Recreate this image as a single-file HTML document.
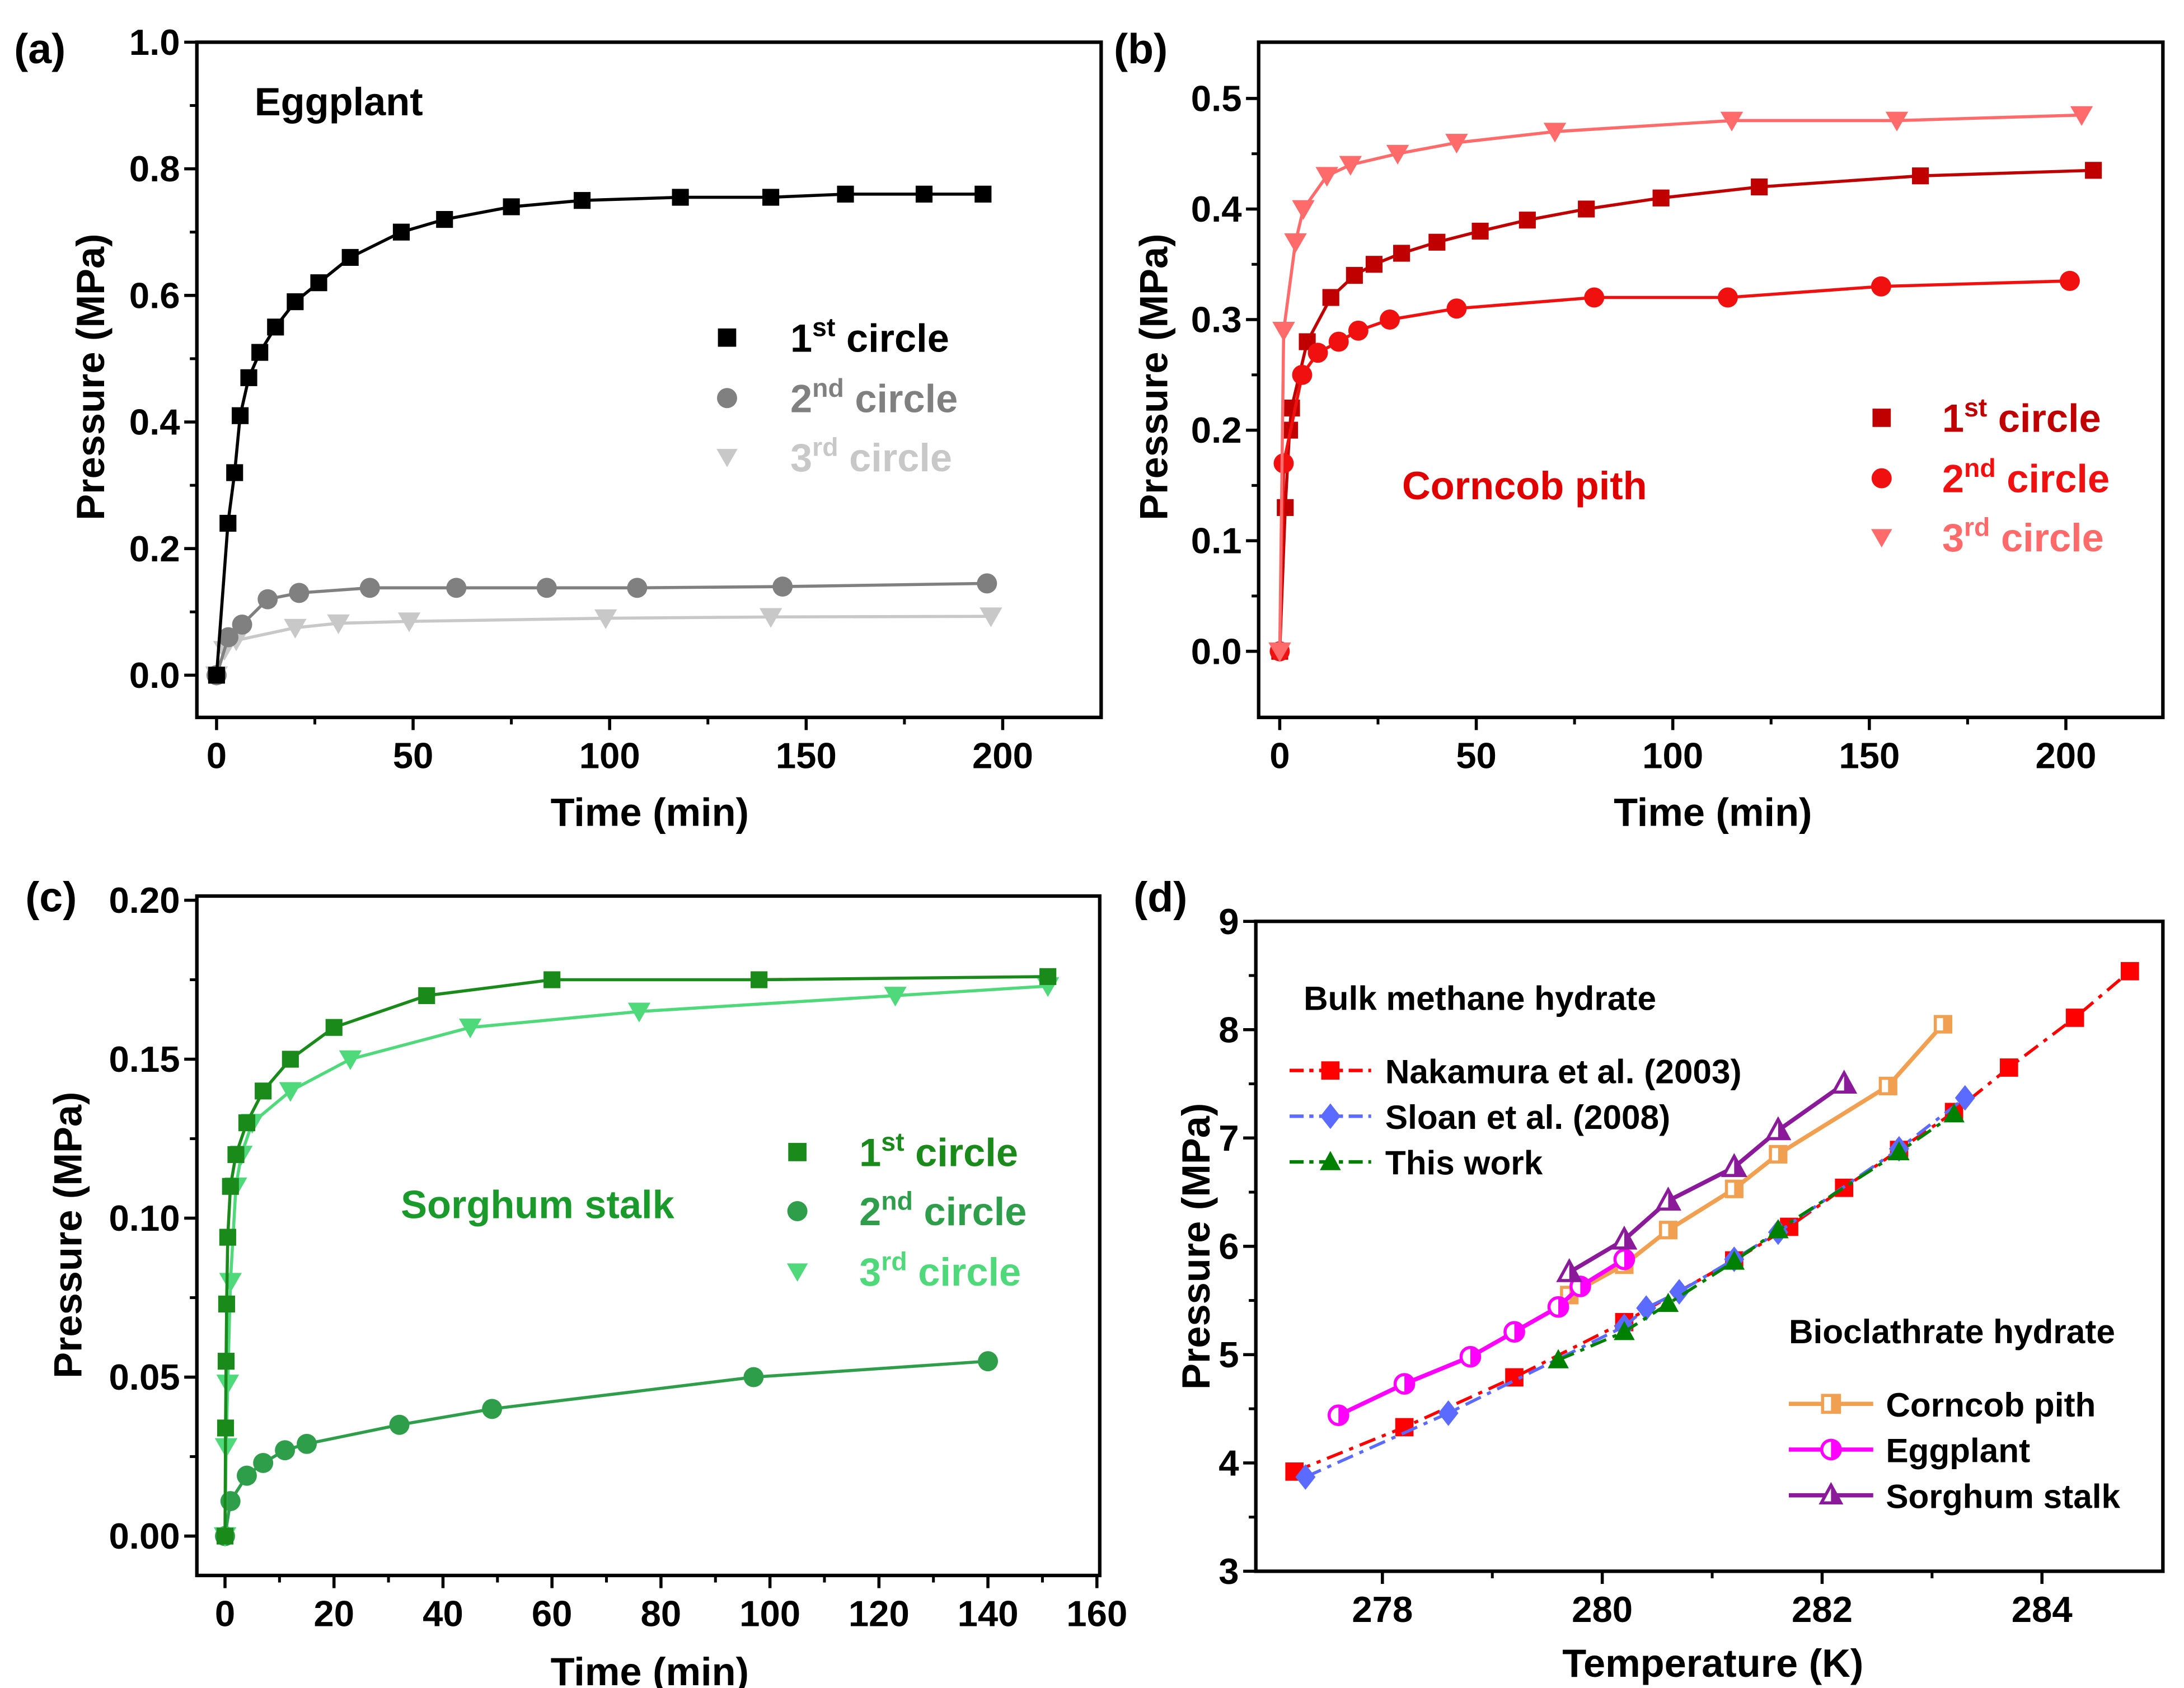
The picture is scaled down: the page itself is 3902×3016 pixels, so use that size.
<!DOCTYPE html>
<html><head><meta charset="utf-8"><style>
html,body{margin:0;padding:0;background:#fff}
svg{display:block}
text{font-family:"Liberation Sans",Arial,sans-serif;font-weight:bold}
</style></head><body>
<svg id="fig" xmlns="http://www.w3.org/2000/svg" width="3902" height="3016" viewBox="0 0 1553 1200" preserveAspectRatio="none"></svg>
<script>
// ---------- Panel (a) Eggplant ----------
const aT1=[0,2.9,4.6,6,8.2,11,15,20,26,34,47,58,75,93,118,141,160,180,195];
const aP1=[0,0.24,0.32,0.41,0.47,0.51,0.55,0.59,0.62,0.66,0.70,0.72,0.74,0.75,0.755,0.755,0.76,0.76,0.76];
const aT2=[0,3,6.5,13,21,39,61,84,107,144,196];
const aP2=[0,0.06,0.08,0.12,0.13,0.138,0.138,0.138,0.138,0.14,0.145];
const aT3=[0,2,5,20,31,49,99,141,197];
const aP3=[0,0.04,0.055,0.075,0.082,0.085,0.09,0.092,0.093];
const aXTicks=[0,50,100,150,200];
const aYTicks=[0.0,0.2,0.4,0.6,0.8,1.0];
// ---------- Panel (b) Corncob pith ----------
const bT1=[0,1.4,2.5,3,7,13,19,24,31,40,51,63,78,97,122,163,207];
const bP1=[0,0.13,0.2,0.22,0.28,0.32,0.34,0.35,0.36,0.37,0.38,0.39,0.40,0.41,0.42,0.43,0.435];
const bT2=[0,1,5.7,9.7,15,20,28,45,80,114,153,201];
const bP2=[0,0.17,0.25,0.27,0.28,0.29,0.30,0.31,0.32,0.32,0.33,0.335];
const bT3=[0,1,4,6,12,18,30,45,70,115,157,204];
const bP3=[0,0.29,0.37,0.40,0.43,0.44,0.45,0.46,0.47,0.48,0.48,0.485];
const bXTicks=[0,50,100,150,200];
const bYTicks=[0.0,0.1,0.2,0.3,0.4,0.5];
// ---------- Panel (c) Sorghum stalk ----------
const cT1=[0,0.1,0.2,0.3,0.5,1,2,4,7,12,20,37,60,98,151];
const cP1=[0,0.034,0.055,0.073,0.094,0.11,0.12,0.13,0.14,0.15,0.16,0.17,0.175,0.175,0.176];
const cT2=[0,1,4,7,11,15,32,49,97,140];
const cP2=[0,0.011,0.019,0.023,0.027,0.029,0.035,0.040,0.050,0.055];
const cT3=[0,0.2,0.5,1,2,3,5,12,23,45,76,123,151];
const cP3=[0,0.028,0.048,0.08,0.11,0.12,0.13,0.14,0.15,0.16,0.165,0.17,0.173];
const cXTicks=[0,20,40,60,80,100,120,140,160];
const cYTicks=[0.00,0.05,0.10,0.15,0.20];
// ---------- Panel (d) Phase equilibrium ----------
const dNakT=[277.2,278.2,279.2,280.2,281.2,281.7,282.2,282.7,283.2,283.7,284.3,284.8];
const dNakP=[3.92,4.33,4.79,5.30,5.87,6.18,6.54,6.89,7.24,7.65,8.11,8.54];
const dSloT=[277.3,278.6,280.2,280.4,280.7,281.2,281.6,282.7,283.3];
const dSloP=[3.87,4.46,5.26,5.43,5.58,5.88,6.13,6.90,7.37];
const dThisT=[279.6,280.2,280.6,281.2,281.6,282.7,283.2];
const dThisP=[4.95,5.21,5.47,5.86,6.15,6.87,7.22];
const dCornT=[279.7,280.2,280.6,281.2,281.6,282.6,283.1];
const dCornP=[5.55,5.83,6.15,6.53,6.85,7.48,8.05];
const dEggT=[277.6,278.2,278.8,279.2,279.6,279.8,280.2];
const dEggP=[4.44,4.73,4.98,5.21,5.44,5.63,5.88];
const dSorT=[279.7,280.2,280.6,281.2,281.6,282.2];
const dSorP=[5.76,6.06,6.42,6.73,7.07,7.50];
const dXTicks=[278,280,282,284];
const dYTicks=[3,4,5,6,7,8,9];

const NS='http://www.w3.org/2000/svg';
const svg=document.getElementById('fig');
function mk(tag,attrs,parent){const e=document.createElementNS(NS,tag);for(const k in attrs)e.setAttribute(k,attrs[k]);(parent||svg).appendChild(e);return e;}
function txt(s,x,y,size,anchor,fill,parent){const t=mk('text',{x:x,y:y,'font-size':size,'text-anchor':anchor||'start',fill:fill||'#000'},parent);t.textContent=s;return t;}
function lin(d0,d1,r0,r1){return v=>r0+(v-d0)/(d1-d0)*(r1-r0);}

function marker(g,shape,x,y,s,fill,stroke,open){
  let e;
  const f=open?'#fff':fill, sw=open?2.2:0;
  if(shape==='sq') e=mk('rect',{x:x-s,y:y-s,width:2*s,height:2*s,fill:f,stroke:stroke,'stroke-width':sw},g);
  else if(shape==='ci') e=mk('circle',{cx:x,cy:y,r:s*1.1,fill:f,stroke:stroke,'stroke-width':sw},g);
  else if(shape==='td') e=mk('polygon',{points:`${x-s*1.15},${y-s*0.9} ${x+s*1.15},${y-s*0.9} ${x},${y+s*1.1}`,fill:f,stroke:stroke,'stroke-width':sw},g);
  else if(shape==='tu') e=mk('polygon',{points:`${x-s*1.15},${y+s*0.9} ${x+s*1.15},${y+s*0.9} ${x},${y-s*1.2}`,fill:f,stroke:stroke,'stroke-width':sw},g);
  else if(shape==='di') e=mk('polygon',{points:`${x},${y-s*1.4} ${x+s*1.1},${y} ${x},${y+s*1.4} ${x-s*1.1},${y}`,fill:f,stroke:stroke,'stroke-width':sw},g);
  if(open){ // half fill on right
    if(shape==='sq') mk('rect',{x:x,y:y-s,width:s,height:2*s,fill:fill},g);
    if(shape==='ci') mk('path',{d:`M${x},${y-s*1.1} A${s*1.1},${s*1.1} 0 0 1 ${x},${y+s*1.1} Z`,fill:fill},g);
    if(shape==='tu') mk('polygon',{points:`${x},${y-s*1.2} ${x+s*1.15},${y+s*0.9} ${x},${y+s*0.9}`,fill:fill},g);
  }
  return e;
}

function axes(g,L,R,T,B,xs,ys,xt,yt,xfmt,yfmt,minorX,minorY){
  mk('rect',{x:L,y:T,width:R-L,height:B-T,fill:'none',stroke:'#000','stroke-width':2.5},g);
  xt.forEach(v=>{const x=xs(v);mk('line',{x1:x,y1:B,x2:x,y2:B+9,stroke:'#000','stroke-width':2.2},g);
    txt(xfmt(v),x,B+36,26,'middle','#000',g);});
  yt.forEach(v=>{const y=ys(v);mk('line',{x1:L,y1:y,x2:L-9,y2:y,stroke:'#000','stroke-width':2.2},g);
    txt(yfmt(v),L-12,y+9,26,'end','#000',g);});
  for(let i=0;i<xt.length-1;i++){const m=(xt[i]+xt[i+1])/2;const x=xs(m);mk('line',{x1:x,y1:B,x2:x,y2:B+5,stroke:'#000','stroke-width':2},g);}
  for(let i=0;i<yt.length-1;i++){const m=(yt[i]+yt[i+1])/2;const y=ys(m);mk('line',{x1:L,y1:y,x2:L-5,y2:y,stroke:'#000','stroke-width':2},g);}
}
function series(g,T,P,xs,ys,color,shape,size,opts){
  opts=opts||{};
  const pts=T.map((t,i)=>[xs(t),ys(P[i])]);
  const pl=mk('polyline',{points:pts.map(p=>p.join(',')).join(' '),fill:'none',stroke:opts.lineColor||color,'stroke-width':opts.lw||2.2,'stroke-dasharray':opts.dash||'none'},g);
  
  
  pts.forEach(p=>{const m=marker(g,shape,p[0],p[1],size,color,opts.stroke||color,opts.open);
    
    });
}
function supLabel(g,x,y,num,sup,rest,color,size){
  const t=mk('text',{x:x,y:y,'font-size':size,fill:color},g);
  const a=document.createElementNS(NS,'tspan');a.textContent=num;t.appendChild(a);
  const b=document.createElementNS(NS,'tspan');b.setAttribute('dy',-11);b.setAttribute('font-size',size*0.66);b.textContent=sup;t.appendChild(b);
  const c=document.createElementNS(NS,'tspan');c.setAttribute('dy',11);c.textContent=' '+rest;t.appendChild(c);
  return t;
}
function ytitle(g,x,y,s){const t=txt(s,0,0,28,'middle','#000',g);t.setAttribute('transform',`translate(${x},${y}) rotate(-90)`);}

// Panel a
(function(){
 const g=mk('g',{});
 const xs=lin(0,200,154,713), ys=lin(0,1,480,30);
 axes(g,140,783,30,510,xs,ys,aXTicks,aYTicks,v=>String(v),v=>v.toFixed(1));
 series(g,aT3,aP3,xs,ys,'#c8c8c8','td',7);
 series(g,aT2,aP2,xs,ys,'#808080','ci',6.5);
 series(g,aT1,aP1,xs,ys,'#000','sq',6);
 txt('(a)',10,45,30,'start','#000',g);
 txt('Eggplant',181,82,28,'start','#000',g);
 txt('Time (min)',462,587,28,'middle','#000',g);
 ytitle(g,74,268,'Pressure (MPa)');
 const cs=['#000','#808080','#c8c8c8'],sh=['sq','ci','td'],nm=[['1','st'],['2','nd'],['3','rd']];
 [240,283,325].forEach((y,i)=>{const m=marker(g,sh[i],517,y,6.5,cs[i],cs[i]);
   supLabel(g,562,y+10,nm[i][0],nm[i][1],'circle',cs[i],28);});
})();
// Panel b
(function(){
 const g=mk('g',{});
 const xs=lin(0,200,910,1469), ys=lin(0,0.5,463,70);
 axes(g,895,1538,30,510,xs,ys,bXTicks,bYTicks,v=>String(v),v=>v.toFixed(1));
 series(g,bT1,bP1,xs,ys,'#c00000','sq',6);
 series(g,bT2,bP2,xs,ys,'#f01010','ci',6.5);
 series(g,bT3,bP3,xs,ys,'#ff6a6a','td',7);
 txt('(b)',792,45,30,'start','#000',g);
 txt('Corncob pith',997,355,28,'start','#e00000',g);
 txt('Time (min)',1218,587,28,'middle','#000',g);
 ytitle(g,830,268,'Pressure (MPa)');
 const cs=['#c00000','#f01010','#ff6a6a'],sh=['sq','ci','td'],nm=[['1','st'],['2','nd'],['3','rd']];
 [297,340,382].forEach((y,i)=>{const m=marker(g,sh[i],1338,y,6.5,cs[i],cs[i]);
   supLabel(g,1381,y+10,nm[i][0],nm[i][1],'circle',cs[i],28);});
})();
// Panel c
(function(){
 const g=mk('g',{});
 const xs=lin(0,160,160,780), ys=lin(0,0.2,1092,640);
 axes(g,140,782,637,1120,xs,ys,cXTicks,cYTicks,v=>String(v),v=>v.toFixed(2));
 series(g,cT2,cP2,xs,ys,'#2e9e4a','ci',6.5);
 series(g,cT3,cP3,xs,ys,'#4fd97a','td',7);
 series(g,cT1,cP1,xs,ys,'#1a8a1a','sq',6);
 txt('(c)',18,648,30,'start','#000',g);
 txt('Sorghum stalk',285,866,28,'start','#1a9a2a',g);
 txt('Time (min)',462,1198,28,'middle','#000',g);
 ytitle(g,58,878,'Pressure (MPa)');
 const cs=['#1a8a1a','#2e9e4a','#4fd97a'],sh=['sq','ci','td'],nm=[['1','st'],['2','nd'],['3','rd']];
 [819,861,904].forEach((y,i)=>{const m=marker(g,sh[i],567,y,6.5,cs[i],cs[i]);
   supLabel(g,611,y+10,nm[i][0],nm[i][1],'circle',cs[i],28);});
})();
// Panel d
(function(){
 const g=mk('g',{});
 const xs=lin(278,284,983,1452), ys=lin(3,9,1117,655);
 axes(g,893,1538,655,1117,xs,ys,dXTicks,dYTicks,v=>String(v),v=>String(v));
 series(g,dNakT,dNakP,xs,ys,'#ff0000','sq',6.5,{dash:'12,5,3,5'});
 series(g,dSloT,dSloP,xs,ys,'#5b6bff','di',6.5,{dash:'12,5,3,5'});
 series(g,dThisT,dThisP,xs,ys,'#008000','tu',6.5,{dash:'12,5,3,5'});
 series(g,dCornT,dCornP,xs,ys,'#f0a050','sq',5.5,{open:true,lw:3});
 series(g,dEggT,dEggP,xs,ys,'#ff00ff','ci',6,{open:true,lw:3});
 series(g,dSorT,dSorP,xs,ys,'#8a1a9a','tu',6.5,{open:true,lw:3});
 txt('(d)',806,648,30,'start','#000',g);
 txt('Temperature (K)',1218,1192,28,'middle','#000',g);
 ytitle(g,860,886,'Pressure (MPa)');
 txt('Bulk methane hydrate',927,718,24,'start','#000',g);
 const L1=[['Nakamura et al. (2003)','#ff0000','sq'],['Sloan et al. (2008)','#5b6bff','di'],['This work','#008000','tu']];
 L1.forEach((e,i)=>{const y=761+i*32.5;
   mk('line',{x1:917,y1:y,x2:975,y2:y,stroke:e[1],'stroke-width':2.5,'stroke-dasharray':'10,4,3,4'},g);
   marker(g,e[2],946,y,6.5,e[1],e[1]);
   txt(e[0],985,y+9,24,'start','#000',g);});
 txt('Bioclathrate hydrate',1272,955,24,'start','#000',g);
 const L2=[['Corncob pith','#f0a050','sq'],['Eggplant','#ff00ff','ci'],['Sorghum stalk','#8a1a9a','tu']];
 L2.forEach((e,i)=>{const y=998+i*32.5;
   mk('line',{x1:1272,y1:y,x2:1332,y2:y,stroke:e[1],'stroke-width':3},g);
   marker(g,e[2],1302,y,6,e[1],e[1],true);
   txt(e[0],1341,y+9,24,'start','#000',g);});
})();
</script>
</body></html>
